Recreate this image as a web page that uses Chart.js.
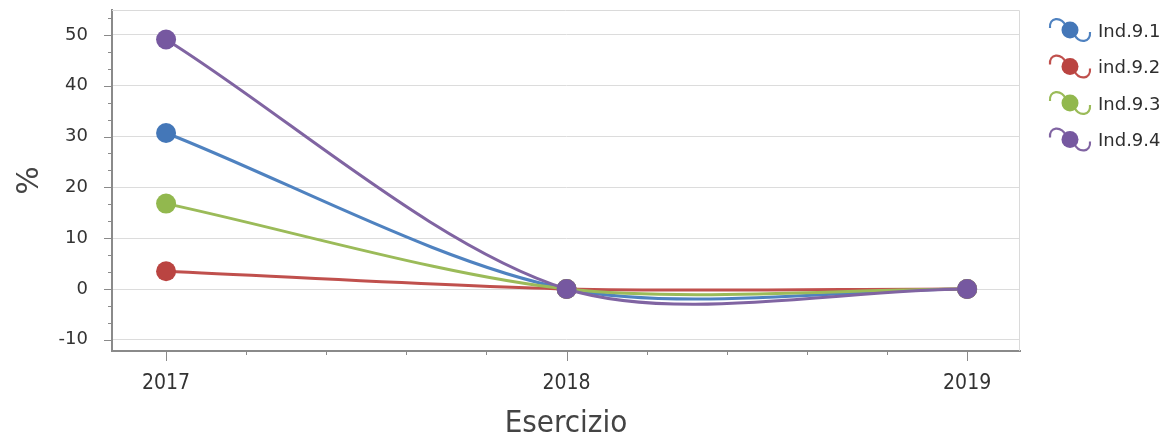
<!DOCTYPE html>
<html><head><meta charset="utf-8">
<script src="https://cdn.jsdelivr.net/npm/chart.js@4.4.1/dist/chart.umd.min.js"></script>
<style>html,body{margin:0;padding:0;background:#fff;overflow:hidden}#wrap{width:1171px;height:439px;position:relative}</style>
</head><body><div id="wrap"><canvas id="c" width="1171" height="439"></canvas></div>
<script>
// ---- data ----
const categories = [2017, 2018, 2019];
const seriesNames = ['Ind.9.1', 'ind.9.2', 'Ind.9.3', 'Ind.9.4'];
const ind91 = [30.7, 0, 0];
const ind92 = [3.5, 0, 0];
const ind93 = [16.8, 0, 0];
const ind94 = [49.1, 0, 0];
const yTickLabels = [-10, 0, 10, 20, 30, 40, 50];
const xTitle = 'Esercizio';
const yTitle = '%';

// ---- styles ----
const seriesValues = [ind91, ind92, ind93, ind94];
const colors = ['#4477b8', '#ba4441', '#92b84e', '#7658a0'];
const lineColors = ['#4f82c0', '#c0504d', '#9bbb59', '#8064a2'];
const axisFont = "'DejaVu Sans', sans-serif";
const condFont = "'DejaVu Sans Condensed', 'DejaVu Sans', sans-serif";

const isMajorY = v => yTickLabels.some(t => Math.abs(t - v) < 1e-6);
const isMajorX = v => categories.some(c => Math.abs(c - v) < 1e-6);

const framePlugin = {
  id: 'frame',
  beforeDatasetsDraw(chart) {
    const {ctx, chartArea: a} = chart;
    ctx.save();
    ctx.strokeStyle = '#dadada';
    ctx.lineWidth = 1;
    ctx.beginPath();
    ctx.moveTo(a.left, a.top + 0.5);
    ctx.lineTo(a.right - 0.5, a.top + 0.5);
    ctx.lineTo(a.right - 0.5, a.bottom);
    ctx.stroke();
    ctx.restore();
  }
};

const tickMarkPlugin = {
  id: 'tickmarks',
  afterDraw(chart) {
    const {ctx, chartArea: a, scales} = chart;
    ctx.save();
    ctx.strokeStyle = '#8a8a8a';
    ctx.lineWidth = 1;
    scales.y.ticks.forEach(t => {
      const y = Math.round(scales.y.getPixelForValue(t.value)) + 0.5;
      const len = isMajorY(t.value) ? 8 : 4;
      ctx.beginPath();
      ctx.moveTo(a.left - len, y);
      ctx.lineTo(a.left, y);
      ctx.stroke();
    });
    scales.x.ticks.forEach(t => {
      const x = Math.round(scales.x.getPixelForValue(t.value)) + 0.5;
      const len = isMajorX(t.value) ? 10 : 4;
      ctx.beginPath();
      ctx.moveTo(x, a.bottom);
      ctx.lineTo(x, a.bottom + len);
      ctx.stroke();
    });
    ctx.restore();
  }
};

const legendPlugin = {
  id: 'customLegend',
  afterDraw(chart) {
    const ctx = chart.ctx;
    ctx.save();
    chart.data.datasets.forEach((ds, i) => {
      const cx = 1070, cy = 30 + i * 36.5;
      ctx.strokeStyle = lineColors[i];
      ctx.lineWidth = 2.2;
      ctx.beginPath();
      ctx.moveTo(cx - 20, cy - 2);
      ctx.bezierCurveTo(cx - 21, cy - 13, cx - 9, cy - 14, cx - 4, cy - 4);
      ctx.stroke();
      ctx.beginPath();
      ctx.moveTo(cx + 4, cy + 4);
      ctx.bezierCurveTo(cx + 9, cy + 14, cx + 21, cy + 13, cx + 20, cy + 2);
      ctx.stroke();
      ctx.fillStyle = colors[i];
      ctx.beginPath();
      ctx.arc(cx, cy, 8.5, 0, Math.PI * 2);
      ctx.fill();
      ctx.fillStyle = '#2e2e2e';
      ctx.font = "18px " + axisFont;
      ctx.textBaseline = 'middle';
      ctx.textAlign = 'left';
      ctx.fillText(ds.label, 1098, cy + 2);
    });
    ctx.restore();
  }
};

const datasets = seriesNames.map((name, i) => ({
  label: name,
  data: categories.map((c, j) => ({x: c, y: seriesValues[i][j]})),
  borderColor: lineColors[i],
  backgroundColor: colors[i],
  pointBackgroundColor: colors[i],
  pointBorderWidth: 0,
  pointRadius: 10,
  borderWidth: 3,
  tension: 0.3,
  order: seriesNames.length - 1 - i,
  clip: false
}));

new Chart(document.getElementById('c'), {
  type: 'line',
  data: {datasets},
  plugins: [framePlugin, tickMarkPlugin, legendPlugin],
  options: {
    responsive: false,
    animation: false,
    devicePixelRatio: 1,
    layout: {padding: {top: 10, right: 151, left: 0, bottom: 0}},
    plugins: {legend: {display: false}, tooltip: {enabled: false}},
    scales: {
      x: {
        type: 'linear',
        min: 2016.865,
        max: 2019.132,
        afterBuildTicks(scale) {
          const t = [];
          for (let k = 0; k <= 10; k++) t.push({value: Math.round((2017 + k * 0.2) * 10) / 10});
          scale.ticks = t;
        },
        afterFit(scale) {
          scale.height = 88;
          scale.paddingLeft = 0; scale.paddingRight = 0;
        },
        grid: {display: false, drawTicks: false},
        border: {display: true, color: '#8a8a8a', width: 2},
        ticks: {
          autoSkip: false, maxRotation: 0, padding: 20,
          color: '#333',
          font: {family: condFont, size: 21},
          callback: v => isMajorX(v) ? String(Math.round(v)) : ''
        },
        title: {
          display: true, text: xTitle, color: '#444',
          font: {family: condFont, size: 31, lineHeight: 1},
          padding: {top: 0, bottom: 0}
        }
      },
      y: {
        type: 'linear',
        min: -12.2,
        max: 54.9,
        afterBuildTicks(scale) {
          const t = [];
          for (let k = -3; k <= 16; k++) t.push({value: k * 10 / 3});
          scale.ticks = t;
        },
        afterFit(scale) {
          scale.width = 112;
          scale.paddingTop = 0; scale.paddingBottom = 0;
        },
        grid: {
          drawTicks: false,
          color: c => isMajorY(c.tick.value) ? '#dcdcdc' : 'rgba(0,0,0,0)',
          lineWidth: 1
        },
        border: {display: true, color: '#8a8a8a', width: 2},
        ticks: {
          autoSkip: false, padding: 24,
          color: '#333',
          font: {family: axisFont, size: 18},
          callback: v => isMajorY(v) ? String(Math.round(v)) : ''
        },
        title: {
          display: true, text: yTitle, color: '#444',
          font: {family: axisFont, size: 30, lineHeight: 1},
          padding: {top: 15, bottom: 0}
        }
      }
    }
  }
});
</script>
</body></html>
